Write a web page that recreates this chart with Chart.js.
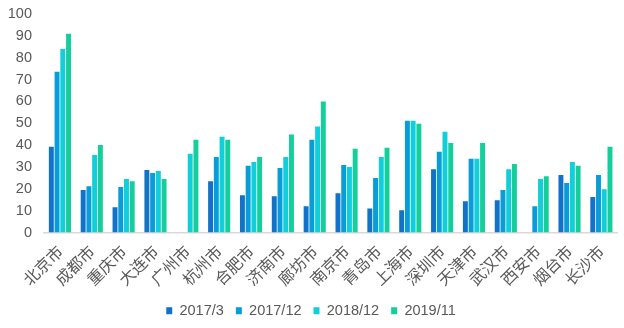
<!DOCTYPE html>
<html>
<head>
<meta charset="utf-8">
<script src="https://cdn.jsdelivr.net/npm/chart.js@4"></script>
<style>
  html, body { margin: 0; padding: 0; background: #fff; }
  #wrap { width: 624px; height: 328px; }
</style>
</head>
<body>
<div id="wrap"><canvas id="myChart" width="624" height="328"></canvas></div>
<script>
//City names along the x axis
var cities = ["北京市", "成都市", "重庆市", "大连市", "广州市", "杭州市", "合肥市", "济南市", "廊坊市",
    "南京市", "青岛市", "上海市", "深圳市", "天津市", "武汉市", "西安市", "烟台市", "长沙市"];

//One array per period, null where there is no value
var data2017_3  = [39.2, 19.4, 11.5, 28.6, null, 23.5, 17.1, 16.6, 12.0, 18.0, 11.0, 10.2, 29.0, 14.3, 14.8, null, 26.3, 16.2];
var data2017_12 = [73.6, 21.2, 20.8, 27.2, null, 34.6, 30.5, 29.5, 42.5, 30.9, 24.9, 51.2, 36.9, 33.7, 19.4, 12.0, 22.6, 26.3];
var data2018_12 = [84.0, 35.5, 24.5, 28.2, 36.0, 43.8, 32.3, 34.6, 48.5, 30.0, 34.6, 51.2, 46.1, 33.7, 29.0, 24.5, 32.3, 19.8];
var data2019_11 = [91.0, 40.0, 23.5, 24.5, 42.5, 42.5, 34.6, 44.8, 60.0, 38.3, 38.8, 49.8, 41.0, 41.0, 31.4, 25.8, 30.5, 39.2];

//Y axis ticks
var yTicks = [0, 10, 20, 30, 40, 50, 60, 70, 80, 90, 100];

var seriesNames = ["2017/3", "2017/12", "2018/12", "2019/11"];
var colors = ["#1271C8", "#069DD9", "#0ECFDA", "#14CF9B"];
var seriesData = [data2017_3, data2017_12, data2018_12, data2019_11];

var textFont = "'Liberation Sans', 'Noto Sans CJK SC', sans-serif";

var ctx = document.getElementById("myChart");
var myChart = new Chart(ctx, {
    type: 'bar',
    data: {
        labels: cities,
        datasets: seriesNames.map(function (name, i) {
            return {
                label: name,
                data: seriesData[i],
                backgroundColor: colors[i],
                borderWidth: 0,
                categoryPercentage: 0.72,
                barPercentage: 0.86
            };
        })
    },
    options: {
        responsive: false,
        animation: false,
        layout: {
            padding: { top: 14, right: 2, left: 0, bottom: 0 }
        },
        plugins: {
            tooltip: { enabled: false },
            legend: {
                position: 'bottom',
                labels: {
                    boxWidth: 6,
                    boxHeight: 7,
                    padding: 12,
                    color: "#595959",
                    font: { family: textFont, size: 14.5 }
                }
            }
        },
        scales: {
            x: {
                afterFit: function (scale) { scale.height = 59; },
                grid: { display: false, drawTicks: false },
                border: { color: "#d9d9d9", width: 1.5 },
                ticks: {
                    color: "#595959",
                    autoSkip: false,
                    minRotation: 45,
                    maxRotation: 45,
                    padding: 9,
                    font: { family: "'Noto Sans CJK SC', sans-serif", size: 16 }
                }
            },
            y: {
                min: 0,
                max: 100,
                afterFit: function (scale) {
                    scale.width = 44;
                    scale.paddingTop = 0;
                },
                afterBuildTicks: function (scale) {
                    scale.ticks = yTicks.map(function (v) { return { value: v }; });
                },
                grid: { display: false, drawTicks: false },
                border: { display: false },
                ticks: {
                    color: "#595959",
                    autoSkip: false,
                    padding: 12,
                    font: { family: textFont, size: 14.5 }
                }
            }
        }
    }
});
</script>
</body>
</html>
